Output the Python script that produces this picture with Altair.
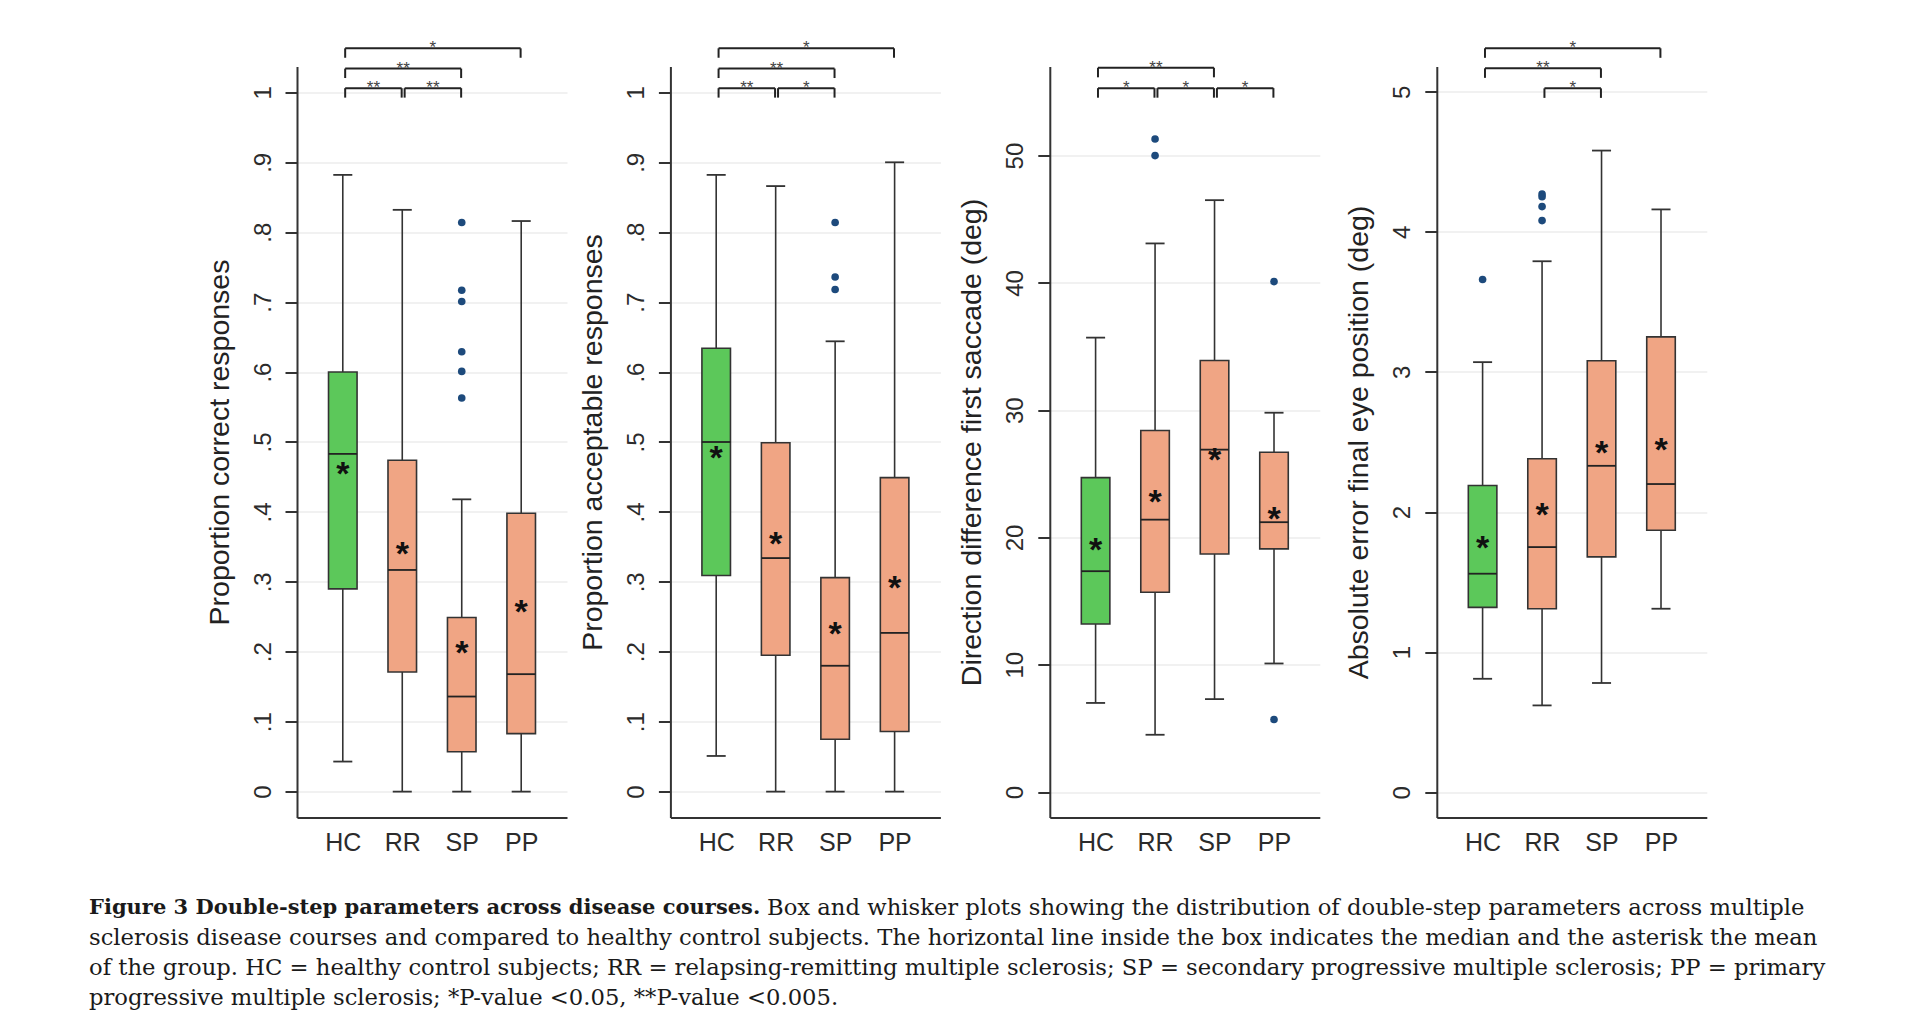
import altair as alt
import pandas as pd

# ---------------- data ----------------
groups = ["HC", "RR", "SP", "PP"]
box_colors = ["#5cc85a", "#f0a584", "#f0a584", "#f0a584"]

# Panel 1: Proportion correct responses
p1_title = "Proportion correct responses"
p1_lo = [0.043, 0.0, 0.0, 0.0]
p1_q1 = [0.290, 0.171, 0.057, 0.083]
p1_med = [0.483, 0.317, 0.136, 0.168]
p1_q3 = [0.600, 0.474, 0.249, 0.398]
p1_hi = [0.882, 0.832, 0.418, 0.816]
p1_mean = [0.460, 0.345, 0.204, 0.263]
p1_out_group = ["SP", "SP", "SP", "SP", "SP", "SP"]
p1_out_value = [0.814, 0.717, 0.701, 0.629, 0.601, 0.563]
p1_br_from = ["HC", "RR", "HC", "HC"]
p1_br_to = ["RR", "SP", "SP", "PP"]
p1_br_label = ["**", "**", "**", "*"]
p1_br_level = [0, 0, 1, 2]

# Panel 2: Proportion acceptable responses
p2_title = "Proportion acceptable responses"
p2_lo = [0.051, 0.0, 0.0, 0.0]
p2_q1 = [0.309, 0.195, 0.075, 0.086]
p2_med = [0.500, 0.334, 0.180, 0.227]
p2_q3 = [0.634, 0.499, 0.306, 0.449]
p2_hi = [0.882, 0.866, 0.644, 0.900]
p2_mean = [0.483, 0.360, 0.231, 0.297]
p2_out_group = ["SP", "SP", "SP"]
p2_out_value = [0.814, 0.736, 0.718]
p2_br_from = ["HC", "RR", "HC", "HC"]
p2_br_to = ["RR", "SP", "SP", "PP"]
p2_br_label = ["**", "*", "**", "*"]
p2_br_level = [0, 0, 1, 2]

# Panel 3: Direction difference first saccade (deg)
p3_title = "Direction difference first saccade (deg)"
p3_lo = [7.0, 4.5, 7.3, 10.1]
p3_q1 = [13.2, 15.7, 18.7, 19.1]
p3_med = [17.35, 21.4, 26.9, 21.2]
p3_q3 = [24.7, 28.4, 33.9, 26.7]
p3_hi = [35.7, 43.1, 46.5, 29.8]
p3_mean = [19.35, 23.1, 26.4, 21.8]
p3_out_group = ["RR", "RR", "PP", "PP"]
p3_out_value = [51.3, 50.0, 40.1, 5.7]
p3_br_from = ["HC", "RR", "SP", "HC"]
p3_br_to = ["RR", "SP", "PP", "SP"]
p3_br_label = ["*", "*", "*", "**"]
p3_br_level = [0, 0, 0, 1]

# Panel 4: Absolute error final eye position (deg)
p4_title = "Absolute error final eye position (deg)"
p4_lo = [0.81, 0.62, 0.78, 1.31]
p4_q1 = [1.32, 1.31, 1.68, 1.87]
p4_med = [1.56, 1.75, 2.33, 2.20]
p4_q3 = [2.19, 2.38, 3.08, 3.25]
p4_hi = [3.07, 3.79, 4.58, 4.16]
p4_mean = [1.77, 2.01, 2.45, 2.47]
p4_out_group = ["HC", "RR", "RR", "RR", "RR"]
p4_out_value = [3.66, 4.27, 4.25, 4.18, 4.08]
p4_br_from = ["RR", "HC", "HC"]
p4_br_to = ["SP", "SP", "PP"]
p4_br_label = ["*", "**", "*"]
p4_br_level = [0, 1, 2]

# axis ranges / ticks / bracket heights (in data units)
p12_ydomain = [-0.037, 1.037]
p12_yticks = [0, 0.1, 0.2, 0.3, 0.4, 0.5, 0.6, 0.7, 0.8, 0.9, 1.0]
p12_levels = [1.006, 1.034, 1.063]
p12_drop = 0.0135
p3_ydomain = [-2.0, 57.0]
p3_yticks = [0, 10, 20, 30, 40, 50]
p3_levels = [55.3, 56.9, 58.5]
p3_drop = 0.75
p4_ydomain = [-0.18, 5.18]
p4_yticks = [0, 1, 2, 3, 4, 5]
p4_levels = [5.024, 5.167, 5.31]
p4_drop = 0.068

caption_bold = "Figure 3  Double-step parameters across disease courses."
caption_line0 = "Box and whisker plots showing the distribution of double-step parameters across multiple"
caption_lines = [
    "sclerosis disease courses and compared to healthy control subjects. The horizontal line inside the box indicates the median and the asterisk the mean",
    "of the group. HC = healthy control subjects; RR = relapsing-remitting multiple sclerosis; SP = secondary progressive multiple sclerosis; PP = primary",
    "progressive multiple sclerosis; *P-value <0.05, **P-value <0.005.",
]

# ---------------- styling ----------------
FONT = "Liberation Sans"
INK = "#2b2b2b"
BOX_HALF = 0.24
CAP_HALF = 0.16
PANEL_W = 270
PANEL_H = 751
X_DOMAIN = [0.23, 4.77]
STAR_SIZE = 34

prop_label_expr = ("datum.value == 0 ? '0' : datum.value >= 0.999 ? '1' : "
                   "replace(format(datum.value, '.1f'), '0.', '.')")


def panel(title, ydom, yticks, label_expr, lo, q1, med, q3, hi, mean,
          out_g, out_v, br_from, br_to, br_lab, br_lvl, levels, drop):
    idx = {g: k + 1 for k, g in enumerate(groups)}
    bdf = pd.DataFrame({"g": groups, "i": [idx[g] for g in groups],
                        "lo": lo, "q1": q1, "med": med, "q3": q3, "hi": hi,
                        "mean": mean, "color": box_colors})
    bdf["xl"] = bdf["i"] - BOX_HALF
    bdf["xr"] = bdf["i"] + BOX_HALF
    bdf["cl"] = bdf["i"] - CAP_HALF
    bdf["cr"] = bdf["i"] + CAP_HALF
    bdf["star"] = "*"

    odf = pd.DataFrame({"i": [idx[g] for g in out_g], "v": out_v})

    brdf = pd.DataFrame({
        "x1": [idx[a] + 0.04 for a in br_from],
        "x2": [idx[b] - 0.01 for b in br_to],
        "y": [levels[l] for l in br_lvl],
        "lab": br_lab,
    })
    brdf["ylow"] = brdf["y"] - drop
    brdf["xm"] = (brdf["x1"] + brdf["x2"]) / 2

    xs = alt.Scale(domain=X_DOMAIN, nice=False, zero=False)
    ys = alt.Scale(domain=ydom, nice=False, zero=False)
    xaxis = alt.Axis(values=[1, 2, 3, 4],
                     labelExpr="['HC','RR','SP','PP'][datum.value - 1]",
                     ticks=False, grid=False, title=None,
                     labelFontSize=25, labelPadding=13, labelFont=FONT,
                     labelColor=INK, domainColor="#333", domainWidth=2)
    yaxis = alt.Axis(values=yticks, labelExpr=label_expr, title=title,
                     grid=True, gridColor="#ececec", gridWidth=1.5,
                     tickSize=12, tickWidth=2, tickColor="#333",
                     domainColor="#333", domainWidth=2,
                     labelAngle=270, labelFontSize=24, labelPadding=10,
                     labelFont=FONT, labelColor=INK,
                     titleFont=FONT, titleFontSize=28.5, titleFontWeight="normal",
                     titleColor="#222", titlePadding=17)

    base = alt.Chart(bdf)
    whisk = base.mark_rule(color="#333", strokeWidth=1.6).encode(
        x=alt.X("i:Q", scale=xs, axis=xaxis),
        y=alt.Y("lo:Q", scale=ys, axis=yaxis),
        y2="hi:Q")
    cap_lo = base.mark_rule(color="#333", strokeWidth=1.8).encode(
        x=alt.X("cl:Q", scale=xs), x2="cr:Q", y=alt.Y("lo:Q", scale=ys))
    cap_hi = base.mark_rule(color="#333", strokeWidth=1.8).encode(
        x=alt.X("cl:Q", scale=xs), x2="cr:Q", y=alt.Y("hi:Q", scale=ys))
    box = base.mark_rect(stroke="#333", strokeWidth=1.6).encode(
        x=alt.X("xl:Q", scale=xs), x2="xr:Q",
        y=alt.Y("q1:Q", scale=ys), y2="q3:Q",
        fill=alt.Fill("color:N", scale=None))
    median = base.mark_rule(color="#222", strokeWidth=1.8).encode(
        x=alt.X("xl:Q", scale=xs), x2="xr:Q", y=alt.Y("med:Q", scale=ys))
    star = base.mark_text(fontSize=STAR_SIZE, fontWeight="bold", font=FONT,
                          color="#111", baseline="alphabetic",
                          dy=round(0.45 * STAR_SIZE)).encode(
        x=alt.X("i:Q", scale=xs), y=alt.Y("mean:Q", scale=ys), text="star:N")
    outl = alt.Chart(odf).mark_circle(size=58, color="#1d4a7c", opacity=1).encode(
        x=alt.X("i:Q", scale=xs), y=alt.Y("v:Q", scale=ys))

    bb = alt.Chart(brdf)
    br_h = bb.mark_rule(color="#222", strokeWidth=2).encode(
        x=alt.X("x1:Q", scale=xs), x2="x2:Q", y=alt.Y("y:Q", scale=ys))
    br_l = bb.mark_rule(color="#222", strokeWidth=2).encode(
        x=alt.X("x1:Q", scale=xs), y=alt.Y("y:Q", scale=ys), y2="ylow:Q")
    br_r = bb.mark_rule(color="#222", strokeWidth=2).encode(
        x=alt.X("x2:Q", scale=xs), y=alt.Y("y:Q", scale=ys), y2="ylow:Q")
    br_t = bb.mark_text(fontSize=17, font=FONT, color="#444",
                        baseline="alphabetic", dy=5).encode(
        x=alt.X("xm:Q", scale=xs), y=alt.Y("y:Q", scale=ys), text="lab:N")

    return alt.layer(whisk, cap_lo, cap_hi, box, median, star, outl,
                     br_h, br_l, br_r, br_t).properties(width=PANEL_W, height=PANEL_H)


c1 = panel(p1_title, p12_ydomain, p12_yticks, prop_label_expr,
           p1_lo, p1_q1, p1_med, p1_q3, p1_hi, p1_mean,
           p1_out_group, p1_out_value, p1_br_from, p1_br_to, p1_br_label, p1_br_level,
           p12_levels, p12_drop)
c2 = panel(p2_title, p12_ydomain, p12_yticks, prop_label_expr,
           p2_lo, p2_q1, p2_med, p2_q3, p2_hi, p2_mean,
           p2_out_group, p2_out_value, p2_br_from, p2_br_to, p2_br_label, p2_br_level,
           p12_levels, p12_drop)
c3 = panel(p3_title, p3_ydomain, p3_yticks, "format(datum.value, 'd')",
           p3_lo, p3_q1, p3_med, p3_q3, p3_hi, p3_mean,
           p3_out_group, p3_out_value, p3_br_from, p3_br_to, p3_br_label, p3_br_level,
           p3_levels, p3_drop)
c4 = panel(p4_title, p4_ydomain, p4_yticks, "format(datum.value, 'd')",
           p4_lo, p4_q1, p4_med, p4_q3, p4_hi, p4_mean,
           p4_out_group, p4_out_value, p4_br_from, p4_br_to, p4_br_label, p4_br_level,
           p4_levels, p4_drop)

row = alt.hconcat(c1, alt.hconcat(c2, alt.hconcat(c3, c4, spacing=25), spacing=17.4), spacing=10.4)

# ---------------- caption ----------------
CAP_FONT = "DejaVu Serif"
CAP_SIZE = 22.7
BOLD_SIZE = 21
BOLD_W = 678
CAP_X = -208
cap_ys = alt.Scale(domain=[-0.5, 3.5], reverse=True, nice=False, zero=False)
bold_df = pd.DataFrame({"line": [0], "t": [caption_bold]})
l0_df = pd.DataFrame({"line": [0], "t": [caption_line0]})
rest_df = pd.DataFrame({"line": [1, 2, 3], "t": caption_lines})

cap_bold = alt.Chart(bold_df).mark_text(
    font=CAP_FONT, fontSize=BOLD_SIZE, fontWeight="bold", align="left",
    baseline="middle", color="#1a1a1a").encode(
    x=alt.value(CAP_X), y=alt.Y("line:Q", scale=cap_ys, axis=None), text="t:N")
cap_l0 = alt.Chart(l0_df).mark_text(
    font=CAP_FONT, fontSize=CAP_SIZE, align="left", baseline="middle",
    color="#1a1a1a", dx=BOLD_W).encode(
    x=alt.value(CAP_X), y=alt.Y("line:Q", scale=cap_ys, axis=None), text="t:N")
cap_rest = alt.Chart(rest_df).mark_text(
    font=CAP_FONT, fontSize=CAP_SIZE, align="left", baseline="middle",
    color="#1a1a1a").encode(
    x=alt.value(CAP_X), y=alt.Y("line:Q", scale=cap_ys, axis=None), text="t:N")
caption = alt.layer(cap_bold, cap_l0, cap_rest).properties(width=1400, height=120)

chart = alt.vconcat(row, caption, spacing=37).properties(
    padding={"left": 89, "top": 38.5, "right": 5, "bottom": 5}
).configure_view(stroke=None).configure_axis(labelBound=False)

chart.save("out.html", embed_options={"renderer": "svg", "actions": False})
